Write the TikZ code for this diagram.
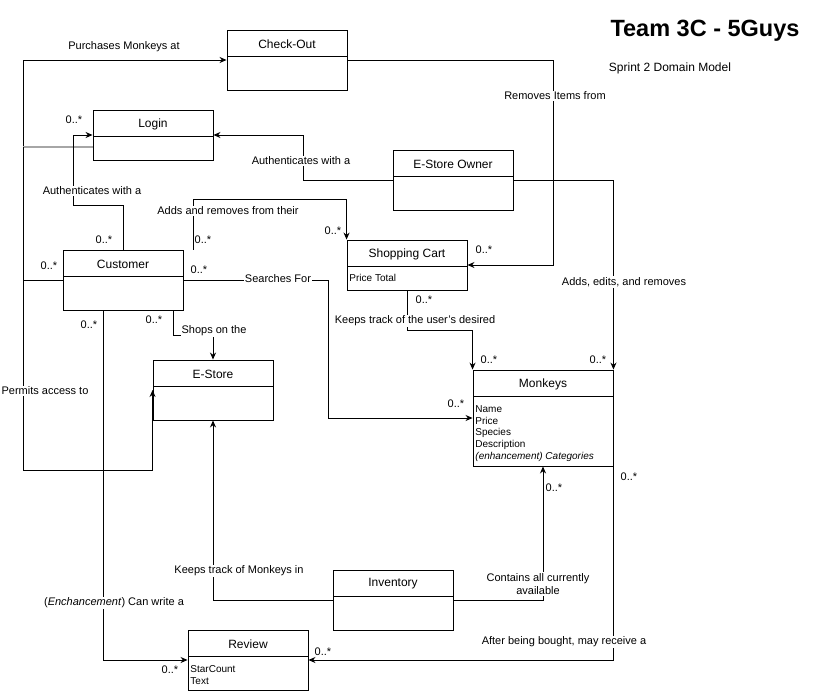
\documentclass[tikz,border=0pt]{standalone}
\usepackage{fontspec}
\setmainfont{Liberation Sans}
\usetikzlibrary{arrows.meta, positioning, fit}

\begin{document}
\begin{tikzpicture}[x=1pt, y=-1pt, >={Stealth[length=7pt,width=6pt]}, line width=0.9pt,
    font=\fontsize{11}{13}\selectfont,
    classbox/.style={draw, inner sep=0pt},
    classname/.style={font=\fontsize{12}{14}\selectfont},
    attr/.style={font=\fontsize{10}{12}\selectfont, anchor=west, inner sep=0pt},
    lbl/.style={fill=white, inner sep=1pt},
    mult/.style={inner sep=0pt}]
    \useasboundingbox (0,0) rectangle (815,691);

    % 1. 标题
    \node[font=\fontsize{23.5}{27}\selectfont\bfseries] (title) at (705,31) {Team 3C - 5Guys};
    \node[font=\fontsize{12}{14}\selectfont] (subtitle) at (670,68) {Sprint 2 Domain Model};

    % 2. 类框（名称、标题栏分隔线）
    \foreach \n/\l/\t/\r/\b/\d/\txt in {
      checkout/227/30/347/90/56/Check-Out,
      login/93/110/213/160/136/Login,
      owner/393/150/513/210/176/E-Store Owner,
      cart/347/240/467/290/266/Shopping Cart,
      customer/63/250/183/310/276/Customer,
      estore/153/360/273/420/386/E-Store,
      monkeys/473/370/613/466/396/Monkeys,
      inventory/333/570/453/630/596/Inventory,
      review/188/630/308/690/656/Review}{
      \node[classbox, fit={(\l,\t) (\r,\b)}] (\n) {};
      \draw (\l,\d) -- (\r,\d);
      \node[classname] (\n-name) at ({(\l+\r)/2},{(\t+\d)/2+1}) {\txt};
    }

    % 3. 属性
    \node[attr] (cart-a) at (349,278) {Price Total};
    \foreach \y/\a in {409/Name, 421/Price, 433/Species, 445/Description}{
      \node[attr] (monkeys-\a) at (475,\y) {\a};
    }
    \node[attr] (monkeys-cat) at (475,457) {\itshape (enhancement) Categories};
    \node[attr] (review-star) at (190,669) {StarCount};
    \node[attr] (review-text) at (190,681) {Text};

    % 4. 连线
    \draw[->] (customer.west) -- (23,280) |- (checkout.west);
    \draw[gray!70, line width=1.6pt] ([yshift=-12pt]login.west) -- (23,147);
    \draw[->] (23,147) -- (23,470) -| (estore.west);
    \draw[->] (customer.north) |- (73,205) |- (login.west);
    \draw[->] (owner.west) -- (303,180) |- (login.east);
    \draw[->] ([xshift=70pt]customer.north) -- ++(0,-50) -| (cart.north west);
    \draw[->] (customer.east) -- (328,280) |- (monkeys.west);
    \draw[->] ([xshift=50pt]customer.south) -- ++(0,25) -| (estore.north);
    \draw[->] ([xshift=-20pt]customer.south) |- (review.west);
    \draw[->] (inventory.west) -| (estore.south);
    \draw[->] (inventory.east) -| (monkeys.south);
    \draw[->] (monkeys.south east) |- (review.east);
    \draw[->] (checkout.east) -- (553,60) |- (cart.east);
    \draw[->] (owner.east) -| (monkeys.north east);
    \draw[->] (cart.south) -- ++(0,40) -| (monkeys.north west);

    % 5. 连线标注
    \node (l-purchase) at (124,47) {Purchases Monkeys at};
    \node[lbl] (l-permit) at (45,391) {Permits access to};
    \node[lbl] (l-auth1) at (92,191) {Authenticates with a};
    \node[lbl] (l-auth2) at (301,161) {Authenticates with a};
    \node[lbl] (l-adds) at (228,211) {Adds and removes from their};
    \node[lbl] (l-search) at (278,279) {Searches For};
    \node[lbl] (l-shops) at (214,331) {Shops on the};
    \node[lbl] (l-write) at (114,603) {(\textit{Enchancement}) Can write a};
    \node[lbl] (l-track) at (239,571) {Keeps track of Monkeys in};
    \node[lbl, align=center] (l-contains) at (538,584) {Contains all currently\\available};
    \node[lbl] (l-bought) at (564,642) {After being bought, may receive a};
    \node[lbl] (l-remove) at (555,96) {Removes Items from};
    \node[lbl] (l-edit) at (624,282) {Adds, edits, and removes};
    \node[lbl] (l-desired) at (415,321) {Keeps track of the user's desired};

    % 6. 多重性
    \foreach \x/\y [count=\i] in {74/120, 104/240, 203/240, 333/231, 49/266, 199/270,
        456/404, 154/320, 89/325, 170/670, 554/488, 629/477, 323/652, 484/250,
        598/360, 424/300, 489/360}{
      \node[mult] (m\i) at (\x,\y) {0..*};
    }
\end{tikzpicture}
\end{document}
